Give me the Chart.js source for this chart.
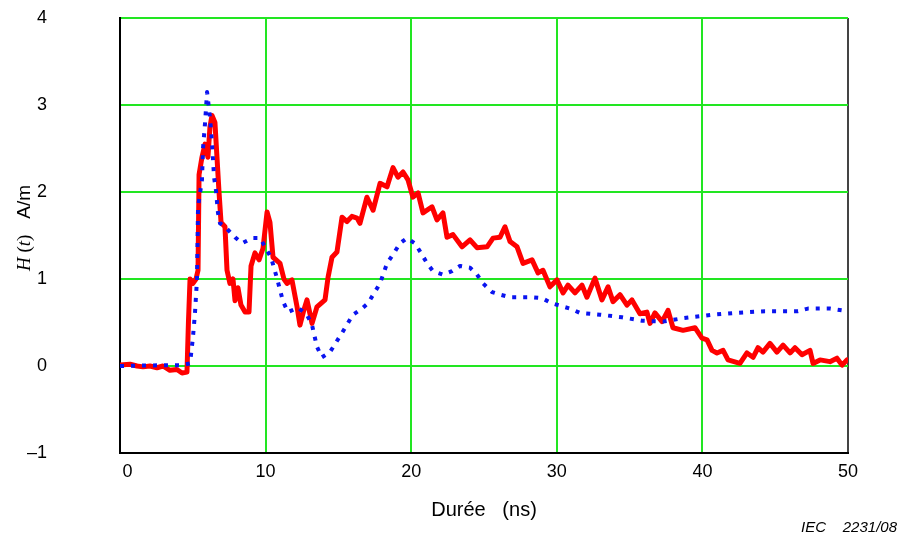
<!DOCTYPE html>
<html>
<head>
<meta charset="utf-8">
<script src="https://cdn.jsdelivr.net/npm/chart.js@4.4.0/dist/chart.umd.min.js"></script>
<style>
html,body{margin:0;padding:0;background:#fff;}
#wrap{width:898px;height:538px;position:relative;}
</style>
</head>
<body>
<div id="wrap"><canvas id="c" width="898" height="538"></canvas></div>
<script>
// ---- data ----
const xTicks = [0, 10, 20, 30, 40, 50];
const xTickLabels = ['   0', '10', '20', '30', '40', '50'];
const yTicks = [-1, 0, 1, 2, 3, 4];
const yTickLabels = ['\u20131', '0', '1', '2', '3', '4'];

const redX = [0.00,0.69,1.17,1.58,2.06,2.54,2.95,3.43,3.91,4.26,4.60,4.70,4.81,5.01,5.22,5.36,5.43,5.63,5.84,6.04,6.18,6.32,6.52,6.66,6.80,6.94,7.21,7.35,7.55,7.76,7.90,8.10,8.31,8.59,8.86,9.00,9.27,9.55,9.82,10.10,10.30,10.51,10.99,11.26,11.47,11.81,12.16,12.36,12.64,12.84,13.19,13.53,14.08,14.29,14.56,14.90,15.25,15.59,15.93,16.28,16.48,16.96,17.38,17.86,18.34,18.75,19.09,19.44,19.78,20.12,20.47,20.81,21.43,21.77,22.18,22.46,22.87,23.49,24.04,24.52,25.21,25.62,26.10,26.44,26.79,27.27,27.68,28.30,28.71,29.05,29.53,30.01,30.43,30.77,31.25,31.73,32.07,32.62,33.10,33.52,33.86,34.34,34.82,35.16,35.71,36.19,36.40,36.74,37.23,37.64,37.98,38.67,39.49,39.97,40.32,40.66,41.00,41.42,41.76,42.58,43.06,43.48,43.82,44.16,44.64,45.12,45.54,46.02,46.36,46.84,47.39,47.60,48.08,48.76,49.24,49.59,49.93];
const redY = [0.01,0.02,0.00,-0.01,0.00,-0.02,0.00,-0.05,-0.04,-0.08,-0.07,0.50,1.00,0.95,1.00,1.10,2.20,2.40,2.55,2.40,2.75,2.88,2.80,2.40,2.00,1.65,1.60,1.10,0.95,1.00,0.75,0.90,0.70,0.62,0.62,1.15,1.30,1.22,1.35,1.77,1.65,1.25,1.18,1.00,0.95,0.99,0.68,0.47,0.65,0.76,0.49,0.68,0.76,1.02,1.25,1.31,1.71,1.66,1.72,1.70,1.64,1.94,1.79,2.10,2.06,2.28,2.17,2.23,2.14,1.94,1.99,1.76,1.83,1.68,1.76,1.48,1.51,1.37,1.45,1.36,1.37,1.47,1.48,1.60,1.43,1.37,1.18,1.22,1.07,1.10,0.91,0.99,0.84,0.93,0.84,0.93,0.79,1.01,0.76,0.91,0.74,0.82,0.70,0.76,0.60,0.62,0.49,0.61,0.51,0.64,0.44,0.41,0.44,0.32,0.30,0.18,0.15,0.18,0.07,0.03,0.15,0.10,0.21,0.16,0.26,0.16,0.24,0.15,0.21,0.13,0.18,0.03,0.07,0.05,0.09,0.01,0.07];

const blueX = [0.00,3.43,4.26,4.81,5.01,5.15,5.29,5.32,5.36,5.63,5.70,5.84,5.98,6.18,6.32,6.46,6.59,6.73,6.87,7.21,7.90,8.38,9.07,9.62,9.96,10.37,10.78,11.20,11.54,12.23,12.84,13.19,13.53,13.87,14.42,15.25,16.00,16.62,17.03,17.86,18.34,18.82,19.23,19.71,20.26,20.67,21.09,21.50,22.18,22.80,23.35,24.04,24.52,24.93,25.55,26.10,26.79,28.30,28.98,29.67,30.91,31.59,32.97,34.48,35.85,37.29,38.67,40.73,42.24,44.30,46.57,47.25,48.76,50.00];
const blueY = [0.00,0.01,0.01,0.03,0.33,0.61,1.00,1.37,1.83,2.14,2.50,2.79,3.15,2.86,2.56,2.17,2.02,1.76,1.64,1.60,1.48,1.41,1.47,1.47,1.37,1.25,1.01,0.74,0.62,0.67,0.59,0.47,0.22,0.10,0.16,0.38,0.59,0.66,0.72,0.95,1.18,1.30,1.41,1.47,1.41,1.30,1.18,1.09,1.05,1.09,1.15,1.13,1.05,0.95,0.85,0.82,0.79,0.79,0.78,0.72,0.66,0.61,0.59,0.56,0.52,0.51,0.55,0.59,0.61,0.63,0.63,0.66,0.66,0.63];

const xTitle = 'Durée   (ns)';
const footnote = 'IEC    2231/08';

// ---- chart ----
const GREEN = '#22e622';
const PLOT = {left:120, right:848, top:18, bottom:453};

// condensed face for tick digits if available
function hasFont(name) {
  const cv = document.createElement('canvas').getContext('2d');
  cv.font = '100px monospace';
  const a = cv.measureText('0123456789abcW').width;
  cv.font = '100px "' + name + '", monospace';
  const b = cv.measureText('0123456789abcW').width;
  return a !== b;
}
const narrow = hasFont('Liberation Sans Narrow');
const tickFont = narrow
  ? {family: '"Liberation Sans Narrow", "Liberation Sans", Arial, sans-serif', size: 22}
  : {family: '"Liberation Sans", Arial, sans-serif', size: 18};

const toXY = (xs, ys) => xs.map((x, i) => ({x: x, y: ys[i]}));

const textPlugin = {
  id: 'texts',
  afterDraw(chart) {
    const ctx = chart.ctx;
    ctx.save();
    ctx.fillStyle = '#000';
    ctx.font = '20px "Liberation Sans", Arial, sans-serif';
    ctx.textAlign = 'center';
    ctx.textBaseline = 'middle';
    const xs = chart.scales.x;
    ctx.fillText(xTitle, (xs.left + xs.right) / 2, 510);
    ctx.font = 'italic 15px "Liberation Sans", Arial, sans-serif';
    ctx.textAlign = 'right';
    ctx.fillText(footnote, 897, 528);
    const segs = [
      {t: 'H', f: 'italic 19px "Liberation Serif", "Times New Roman", serif'},
      {t: ' (', f: '19px "Liberation Serif", "Times New Roman", serif'},
      {t: 't', f: 'italic 19px "Liberation Serif", "Times New Roman", serif'},
      {t: ')', f: '19px "Liberation Serif", "Times New Roman", serif'},
      {t: '   A/m', f: '19px "Liberation Sans", Arial, sans-serif'}
    ];
    let total = 0;
    segs.forEach(s => { ctx.font = s.f; s.w = ctx.measureText(s.t).width; total += s.w; });
    ctx.translate(25, 228);
    ctx.rotate(-Math.PI / 2);
    ctx.textAlign = 'left';
    let pos = -total / 2;
    segs.forEach(s => { ctx.font = s.f; ctx.fillText(s.t, pos, 0); pos += s.w; });
    ctx.restore();
  }
};

new Chart(document.getElementById('c'), {
  type: 'line',
  data: {
    datasets: [
      {
        label: 'blue',
        data: toXY(blueX, blueY),
        borderColor: '#0a14f0',
        borderWidth: 4,
        borderDash: [4, 7],
        borderCapStyle: 'butt',
        borderJoinStyle: 'round',
        pointRadius: 0,
        tension: 0,
        fill: false,
        order: 0
      },
      {
        label: 'red',
        data: toXY(redX, redY),
        borderColor: '#ff0000',
        borderWidth: 5,
        borderJoinStyle: 'round',
        borderCapStyle: 'round',
        pointRadius: 0,
        tension: 0,
        fill: false,
        order: 1
      }
    ]
  },
  options: {
    responsive: false,
    animation: false,
    events: [],
    layout: {padding: {left: 0, right: 898 - PLOT.right, top: PLOT.top, bottom: 0}},
    plugins: {legend: {display: false}, tooltip: {enabled: false}, title: {display: false}},
    scales: {
      x: {
        type: 'linear',
        min: 0, max: 50,
        afterBuildTicks: s => { s.ticks = xTicks.map(v => ({value: v})); },
        afterFit: s => { s.height = 538 - PLOT.bottom; s.paddingLeft = 0; s.paddingRight = 0; },
        grid: {
          color: c => (c.tick && c.tick.value === 50) ? '#444' : GREEN,
          lineWidth: 2,
          drawTicks: false
        },
        border: {color: '#000', width: 2},
        ticks: {
          color: '#000',
          padding: 8,
          maxRotation: 0,
          font: tickFont,
          callback: v => xTickLabels[xTicks.indexOf(v)]
        }
      },
      y: {
        type: 'linear',
        min: -1, max: 4,
        afterBuildTicks: s => { s.ticks = yTicks.map(v => ({value: v})); },
        afterFit: s => { s.width = PLOT.left; s.paddingTop = 0; s.paddingBottom = 0; },
        grid: {color: GREEN, lineWidth: 2, drawTicks: false},
        border: {color: '#000', width: 2},
        ticks: {
          color: '#000',
          padding: 73,
          font: tickFont,
          callback: v => yTickLabels[yTicks.indexOf(v)]
        }
      }
    }
  },
  plugins: [textPlugin]
});
</script>
</body>
</html>
